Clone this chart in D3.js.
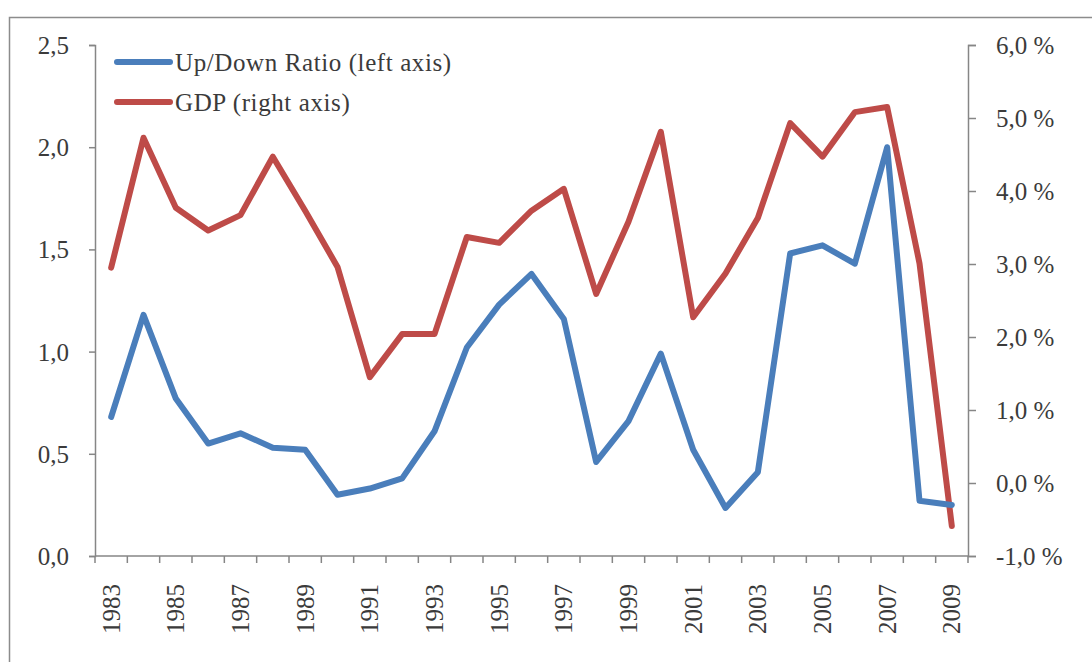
<!DOCTYPE html>
<html>
<head>
<meta charset="utf-8">
<script src="https://cdn.jsdelivr.net/npm/d3@7"></script>
<style>
  body { margin: 0; background: #fff; }
  text { font-family: "Liberation Serif", "Times New Roman", serif; fill: #3b3b3b; }
</style>
</head>
<body>
<div id="area"></div>
<script>
var years = d3.range(1983, 2010);
var yearLabels = years.filter(function(y) { return (y - 1983) % 2 === 0; });

// Up/Down ratio, left axis
var ratio = [0.68, 1.18, 0.77, 0.55, 0.60, 0.53, 0.52, 0.30, 0.33, 0.38,
             0.61, 1.02, 1.23, 1.38, 1.16, 0.46, 0.66, 0.99, 0.52, 0.235,
             0.41, 1.48, 1.52, 1.43, 2.00, 0.27, 0.25];

// GDP growth in %, right axis
var gdp = [2.95, 4.73, 3.77, 3.46, 3.67, 4.47, 3.73, 2.96, 1.45, 2.04,
           2.04, 3.37, 3.29, 3.73, 4.03, 2.59, 3.58, 4.81, 2.27, 2.87,
           3.63, 4.93, 4.47, 5.08, 5.15, 3.01, -0.59];

var leftTicks = [0, 0.5, 1, 1.5, 2, 2.5];
var rightTicks = [-1, 0, 1, 2, 3, 4, 5, 6];
var legendNames = ["Up/Down Ratio (left axis)", "GDP (right axis)"];

var width = 1092, height = 662;
var blue = "#4a7ebb", red = "#be4b48", axisGrey = "#868686";

var svg = d3.select("#area").append("svg")
    .attr("width", width)
    .attr("height", height);

// outer chart frame (runs off the right and bottom edge)
svg.append("rect")
    .attr("x", 9.5).attr("y", 17.5)
    .attr("width", 1200).attr("height", 800)
    .attr("fill", "none")
    .attr("stroke", "#8c8c8c")
    .attr("stroke-width", 1.5);

var x = d3.scaleBand()
    .domain(years)
    .range([95, 968])
    .padding(0);

var yL = d3.scaleLinear().domain([0, 2.5]).range([556, 45]);
var yR = d3.scaleLinear().domain([-1, 6]).range([556, 45]);

var locale = d3.formatLocale({decimal: ",", thousands: ".", grouping: [3], currency: ["", ""], minus: "-"});
var fmt1 = locale.format(".1f");

// left axis
var gL = svg.append("g")
    .attr("transform", "translate(95,0)")
    .call(d3.axisLeft(yL).tickValues(leftTicks).tickSize(6).tickPadding(20).tickFormat(fmt1));

// right axis
var gR = svg.append("g")
    .attr("transform", "translate(968,0)")
    .call(d3.axisRight(yR).tickValues(rightTicks).tickSize(8).tickPadding(20)
        .tickFormat(function(d) { return fmt1(d) + " %"; }));

// x axis: ticks sit on the category boundaries
var boundaries = d3.range(years.length + 1).map(function(i) { return 95 + i * x.step(); });
var gX = svg.append("g").attr("class", "xaxis");
gX.append("line")
    .attr("x1", 95).attr("x2", 968)
    .attr("y1", 556).attr("y2", 556);
gX.selectAll("line.tick")
    .data(boundaries)
    .enter().append("line")
    .attr("class", "tick")
    .attr("x1", function(d) { return d; })
    .attr("x2", function(d) { return d; })
    .attr("y1", 556).attr("y2", 563);
gX.selectAll("text")
    .data(yearLabels)
    .enter().append("text")
    .attr("transform", function(d) {
        return "translate(" + (x(d) + x.bandwidth() / 2) + ",584) rotate(-90)";
    })
    .attr("text-anchor", "end")
    .attr("dy", "0.34em")
    .style("font-size", "25px")
    .text(function(d) { return d; });

[gL, gR].forEach(function(g) {
    g.select(".domain").attr("stroke", axisGrey).attr("stroke-width", 1.5);
    g.selectAll(".tick line").attr("stroke", axisGrey).attr("stroke-width", 1.5);
    g.selectAll(".tick text")
        .attr("fill", "#3b3b3b")
        .style("font-family", "'Liberation Serif', serif")
        .style("font-size", "25px")
        .attr("dy", "0.34em");
});
gX.selectAll("line").attr("stroke", axisGrey).attr("stroke-width", 1.5);

var cx = function(d, i) { return x(years[i]) + x.bandwidth() / 2; };

var lineL = d3.line().x(cx).y(function(d) { return yL(d); });
var lineR = d3.line().x(cx).y(function(d) { return yR(d); });

svg.append("path")
    .datum(gdp)
    .attr("d", lineR)
    .attr("fill", "none")
    .attr("stroke", red)
    .attr("stroke-width", 6)
    .attr("stroke-linejoin", "round")
    .attr("stroke-linecap", "round");

svg.append("path")
    .datum(ratio)
    .attr("d", lineL)
    .attr("fill", "none")
    .attr("stroke", blue)
    .attr("stroke-width", 6)
    .attr("stroke-linejoin", "round")
    .attr("stroke-linecap", "round");

// legend
var legend = svg.selectAll("g.legend")
    .data(legendNames)
    .enter().append("g")
    .attr("class", "legend")
    .attr("transform", function(d, i) { return "translate(0," + (62 + i * 40) + ")"; });

legend.append("line")
    .attr("x1", 117).attr("x2", 170)
    .attr("y1", 0).attr("y2", 0)
    .attr("stroke", function(d, i) { return i === 0 ? blue : red; })
    .attr("stroke-width", 6)
    .attr("stroke-linecap", "round");

legend.append("text")
    .attr("x", 175)
    .attr("y", 8.5)
    .style("font-size", "25px")
    .style("letter-spacing", "0.6px")
    .text(function(d) { return d; });
</script>
</body>
</html>
